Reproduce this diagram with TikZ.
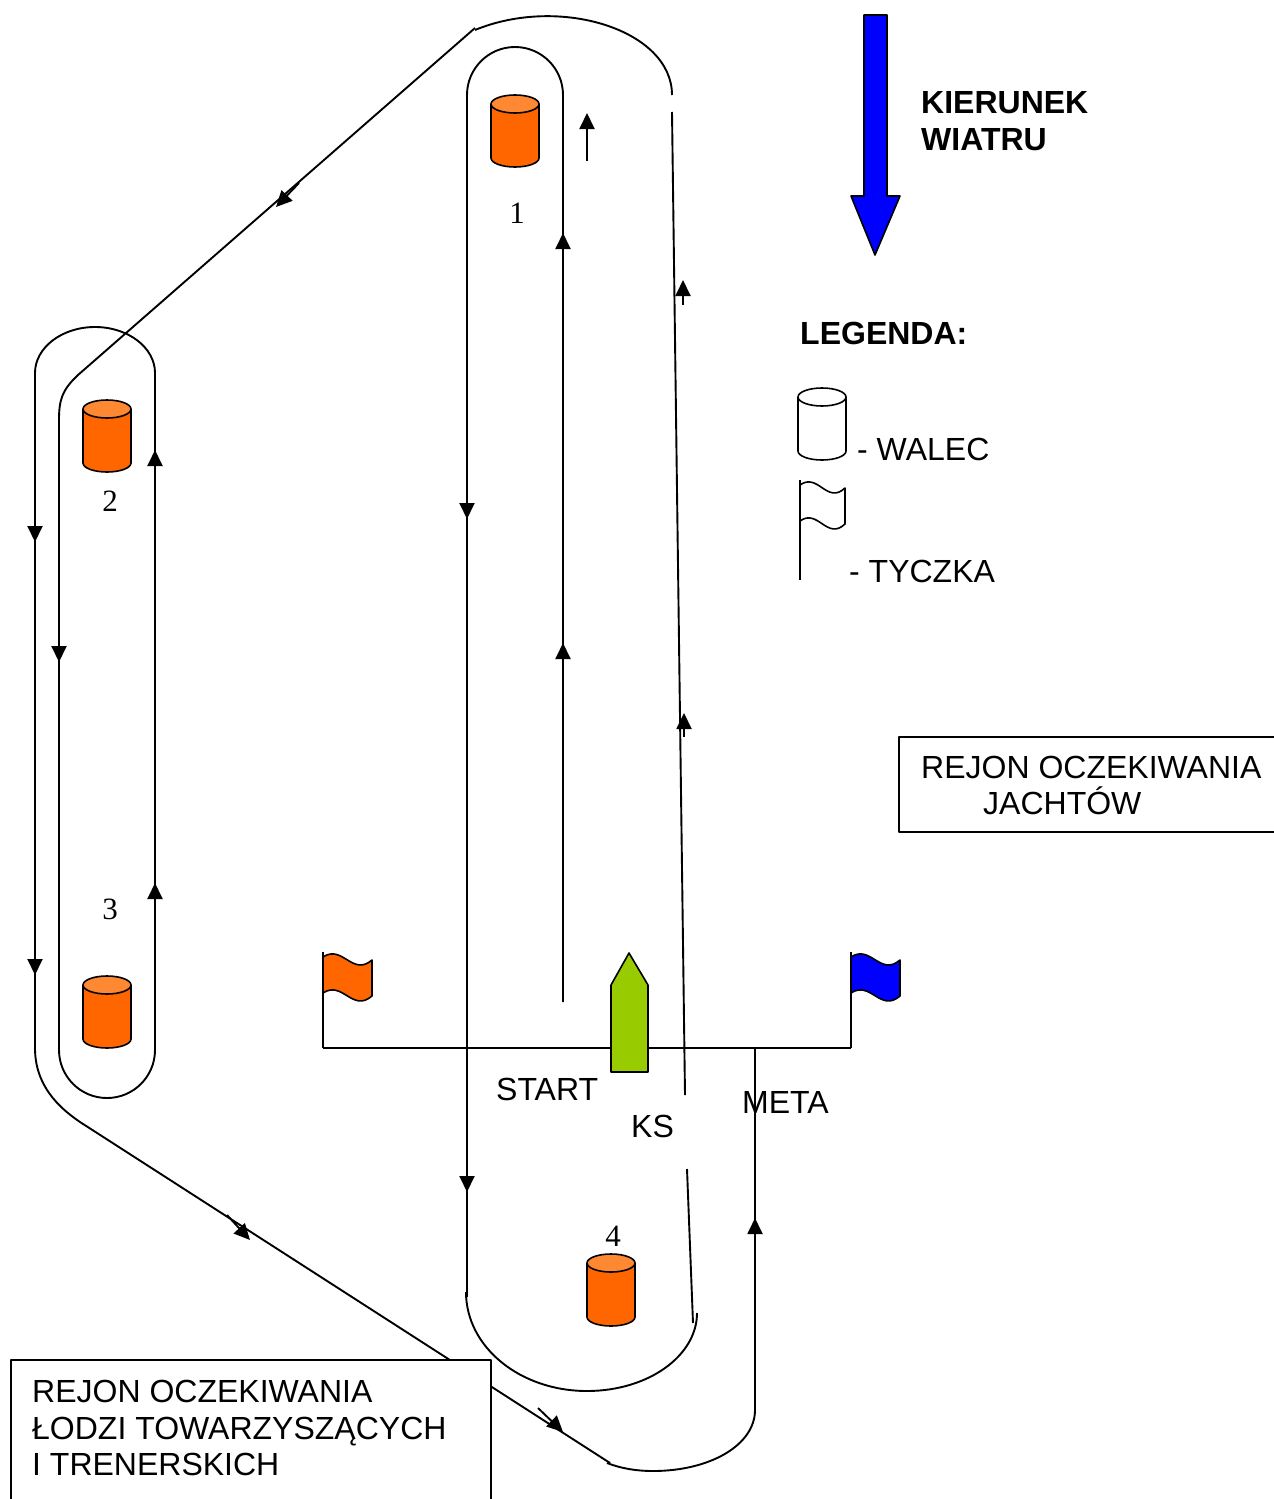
\documentclass[tikz,border=0pt]{standalone}
\usepackage{fontspec}
\setmainfont{Liberation Serif}
\newfontfamily\arialfont{Liberation Sans}
\usetikzlibrary{arrows.meta}
\definecolor{orbody}{HTML}{FF6600}
\definecolor{ortop}{HTML}{FF8833}
\definecolor{boatgreen}{HTML}{99CC00}
\definecolor{windblue}{HTML}{0000FF}
\begin{document}
\begin{tikzpicture}[x=1pt,y=-1pt,line join=round,
  course/.style={line width=1.9pt},
  thin/.style={line width=1.6pt},
  arr/.style={line width=1.9pt,-{Triangle[width=15pt,length=16pt]}},
  lbl/.style={font=\arialfont\fontsize{32}{38}\selectfont,inner sep=0pt,anchor=base west},
  lblb/.style={font=\arialfont\bfseries\fontsize{32}{38}\selectfont,inner sep=0pt,anchor=base west},
  num/.style={font=\fontsize{31}{36}\selectfont,inner sep=0pt,anchor=base},
  pics/cyl/.style args={#1/#2}{code={
    \fill[#1] (-24,0) -- (-24,54) .. controls (-24,59) and (-13.3,63) .. (0,63)
      .. controls (13.3,63) and (24,59) .. (24,54) -- (24,0) -- cycle;
    \draw[thin] (-24,0) -- (-24,54) .. controls (-24,59) and (-13.3,63) .. (0,63)
      .. controls (13.3,63) and (24,59) .. (24,54) -- (24,0);
    \draw[thin,fill=#2] (0,0) ellipse [x radius=24,y radius=9];
  }},
  pics/flag/.style args={#1/#2/#3}{code={
    \draw[thin,fill=#1] (0,0) .. controls ({0.4*#2},-13) and ({0.6*#2},20) .. (#2,3)
      -- (#2,39) .. controls ({0.6*#2},56) and ({0.4*#2},23) .. (0,36) -- cycle;
    \draw[course] (0,-5) -- (0,#3);
  }}]
\useasboundingbox (0,0) rectangle (1274,1499);
\fill[white] (0,0) rectangle (1274,1499);

% --- named junctions
\coordinate (top1L) at (467,95);
\coordinate (top1R) at (563,95);
\coordinate (diagA) at (475,28);
\coordinate (diagB) at (78,375);
\coordinate (low2R) at (155,1050);
\coordinate (low2L) at (59,1050);
\coordinate (out2L) at (35,1048);
\coordinate (diagC) at (80,1122);
\coordinate (diagD) at (610,1463);
\coordinate (metaB) at (755,1410);
\coordinate (metaT) at (755,1048);
\coordinate (startL) at (323,1048);
\coordinate (startR) at (851,1048);

% --- mark 1 inner loop
\draw[course] (467,1297) -- (top1L) .. controls (467,68.5) and (488.5,47) .. (515,47)
  .. controls (541.5,47) and (563,68.5) .. (top1R) -- (563,1002);
% --- mark 4 rounding
\draw[course] (466,1292) .. controls (466,1347) and (520,1391) .. (587,1391)
  .. controls (648,1391) and (697,1356) .. (697,1313);
% --- outer rounding of mark 1
\draw[course] (475,30) .. controls (560,-5) and (672,30) .. (672,95);
\draw[course] (672,112) -- (685,1095);
\draw[course] (687,1169) -- (693,1323);
% --- long course around marks 2 and 3
\draw[course] (diagA) -- (diagB) .. controls (62,390) and (59,400) .. (59,420) -- (low2L)
  .. controls (59,1076.5) and (80.5,1098) .. (107,1098)
  .. controls (133.5,1098) and (155,1076.5) .. (low2R) -- (155,373)
  .. controls (155,347.6) and (128.1,327) .. (95,327)
  .. controls (61.9,327) and (35,347.6) .. (35,373) -- (out2L)
  .. controls (35,1085) and (58,1107) .. (diagC) -- (diagD);
\draw[course] (607,1463) .. controls (620,1468) and (635,1471) .. (653,1471)
  .. controls (710,1471) and (755,1445) .. (metaB) -- (metaT);

% --- start / finish line
\draw[course] (startL) -- (startR);
\pic at (323,957) {flag=orbody/49/91};
\pic at (851,957) {flag=windblue/49/91};
\draw[thin,fill=boatgreen] (611,1072) -- (611,985) -- (629,953) -- (648,985) -- (648,1072) -- cycle;

% --- marks
\pic at (515,104) {cyl=orbody/ortop};
\pic at (107,409) {cyl=orbody/ortop};
\pic at (107,985) {cyl=orbody/ortop};
\pic at (611,1263) {cyl=orbody/ortop};
\node[num] (n1) at (517,223) {1};
\node[num] (n2) at (110,511) {2};
\node[num] (n3) at (110,919) {3};
\node[num] (n4) at (613,1246) {4};

% --- arrows
\draw[arr] (563,258) -- (563,233);
\draw[arr] (563,668) -- (563,643);
\draw[arr] (587,161) -- (587,113);
\draw[arr] (683,305) -- (683,280);
\draw[arr] (684,737) -- (684,713);
\draw[arr] (467,495) -- (467,519);
\draw[arr] (467,1168) -- (467,1192);
\draw[arr] (35,518) -- (35,542);
\draw[arr] (35,930) -- (35,975);
\draw[arr] (59,638) -- (59,662);
\draw[arr] (155,475) -- (155,450);
\draw[arr] (155,908) -- (155,883);
\draw[arr] (299,183) -- (276,207);
\draw[arr] (227,1215) -- (250,1240);
\draw[arr] (538,1408) -- (563,1432);
\draw[arr] (755,1243) -- (755,1218);

% --- boxes
\draw[thin,fill=white] (11,1360) rectangle (491,1520);
\draw[thin,fill=white] (899,737) rectangle (1300,832);
\node[lbl] (b1) at (32,1402) {REJON OCZEKIWANIA};
\node[lbl] (b2) at (32,1439) {ŁODZI TOWARZYSZĄCYCH};
\node[lbl] (b3) at (32,1475) {I TRENERSKICH};
\node[lbl] (r1) at (921,778) {REJON OCZEKIWANIA};
\node[lbl] (r2) at (983,814) {JACHTÓW};

% --- start line labels
\node[lbl] (st) at (496,1100) {START};
\node[lbl] (kst) at (631,1137) {KS};
\node[lbl] (me) at (742,1113) {META};

% --- wind
\draw[thin,fill=windblue] (864,15) -- (887,15) -- (887,196) -- (900,196) -- (875,255)
  -- (851,196) -- (864,196) -- cycle;
\node[lblb] (w1) at (921,113) {KIERUNEK};
\node[lblb] (w2) at (921,150) {WIATRU};

% --- legend
\node[lblb] (lg) at (800,344) {LEGENDA:};
\pic at (822,397) {cyl=white/white};
\node[lbl] (lw) at (857,460) {- WALEC};
\pic at (800,485) {flag=white/45/95};
\node[lbl] (lt) at (849,582) {- TYCZKA};
\end{tikzpicture}
\end{document}
